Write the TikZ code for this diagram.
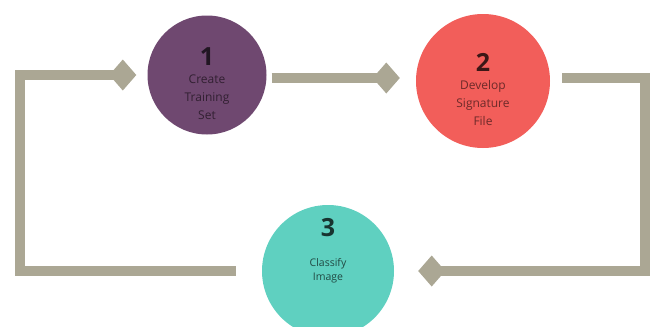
\documentclass[tikz,border=0pt]{standalone}
\usepackage{fontspec}
\setmainfont{Open Sans}
\usetikzlibrary{arrows.meta}
\definecolor{flowgray}{RGB}{171,167,148}
\definecolor{plum}{RGB}{111,72,112}
\definecolor{coral}{RGB}{242,94,90}
\definecolor{teal}{RGB}{95,208,192}
\newcommand{\stepno}[1]{\rule{0pt}{35pt}{\fontsize{25}{26}\selectfont\bfseries #1}}

\begin{document}
\begin{tikzpicture}[x=1pt,y=-1pt,
    stage/.style={circle,inner sep=0pt,align=center,font=\fontsize{12}{18}\selectfont},
    flow/.style={draw=flowgray,line width=10pt,-{Kite[length=27pt,width=31pt,inset=13.5pt]}}]
      \useasboundingbox (0,0) rectangle (657,327);
      \coordinate (l) at (20,0);
      \coordinate (r) at (645,0);
      \coordinate (m) at (0,78);

      \node [stage,fill=plum,minimum size=119pt,text=plum!45!black] (1) at (207,75)
        {\stepno{\color{plum!30!black}1}\\Create\\Training\\Set};
      \node [stage,fill=coral,minimum size=134pt,text=coral!45!black,
        right of=1,node distance=276pt,yshift=-6pt] (2)
        {\stepno{\color{coral!25!black}2}\\Develop\\Signature\\File};
      \node [stage,fill=teal,minimum size=132pt,text=teal!35!black,
        font=\fontsize{10.5}{14}\selectfont,
        below of=1,node distance=196pt,xshift=121pt] (3)
        {{\fontsize{25}{26}\selectfont\bfseries\color{teal!25!black}3}\\[16pt]
         Classify\\Image\rule[-44pt]{0pt}{44pt}};

      \draw[flow,shorten <=5pt,shorten >=16pt] (1.east |- m) -- (2.west |- m);
      \draw[flow,shorten <=12pt,shorten >=24pt] (2.east |- m) -- (r |- m) |- (3.east);
      \draw[flow,shorten <=26pt,shorten >=11pt] (3.west) -- (3.west -| l) |- (1.west);
    \end{tikzpicture}
\end{document}
